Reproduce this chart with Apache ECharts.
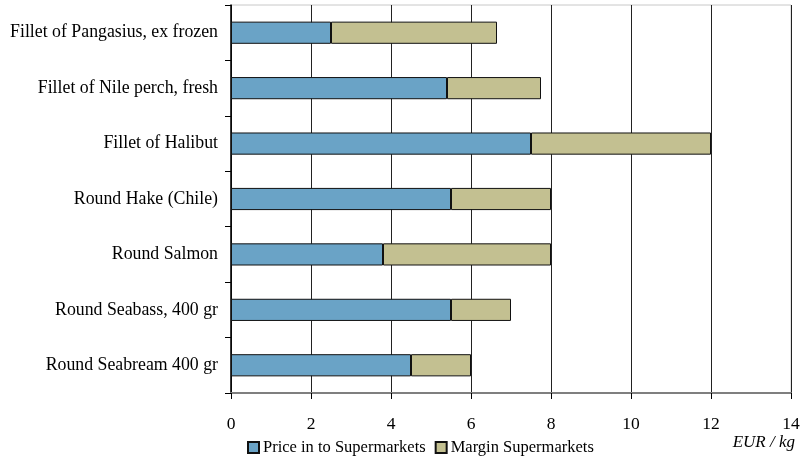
<!DOCTYPE html>
<html>
<head>
<meta charset="utf-8">
<script src="https://cdn.jsdelivr.net/npm/echarts@6/dist/echarts.min.js"></script>
<style>
  html, body { margin: 0; padding: 0; background: #fff; }
  #chart { width: 805px; height: 463px; }
</style>
</head>
<body>
<div id="chart"></div>
<script>
// Fish products: price paid by supermarkets and their margin (EUR per kg)
const categories = [
  'Fillet of Pangasius, ex frozen',
  'Fillet of Nile perch, fresh',
  'Fillet of Halibut',
  'Round Hake (Chile)',
  'Round Salmon',
  'Round Seabass, 400 gr',
  'Round Seabream 400 gr'
];
const priceIn = [2.5, 5.4, 7.5, 5.5, 3.8, 5.5, 4.5];
const margin = [4.15, 2.35, 4.5, 2.5, 4.2, 1.5, 1.5];
const seriesNames = ['Price in to Supermarkets', 'Margin Supermarkets'];
const unitLabel = 'EUR / kg';

const FONT = '"Liberation Serif", "Times New Roman", serif';
const chart = echarts.init(document.getElementById('chart'), null, { renderer: 'canvas' });

chart.setOption({
  animation: false,
  textStyle: { fontFamily: FONT, color: '#000' },
  grid: {
    left: 231, right: 14, top: 5, bottom: 70,
    show: true, borderColor: '#c8c8c8', borderWidth: 1
  },
  xAxis: {
    type: 'value',
    min: 0, max: 14, interval: 2,
    axisLine: { show: true, lineStyle: { color: '#7f7f7f', width: 2 } },
    axisTick: { show: true, length: 6, lineStyle: { color: '#000' } },
    splitLine: { show: true, lineStyle: { color: '#222', width: 1 } },
    axisLabel: { fontFamily: FONT, fontSize: 17.5, color: '#000', margin: 22 }
  },
  yAxis: {
    type: 'category',
    data: categories,
    inverse: true,
    axisLine: { show: true, lineStyle: { color: '#000', width: 1.5 } },
    axisTick: { show: true, length: 6, lineStyle: { color: '#000' } },
    axisLabel: { fontFamily: FONT, fontSize: 17.8, color: '#000', margin: 13 }
  },
  legend: {
    bottom: 2,
    left: 242,
    itemWidth: 11,
    itemHeight: 11,
    itemGap: 9,
    icon: 'rect',
    textStyle: { fontFamily: FONT, fontSize: 16.5, color: '#000', padding: [0, 0, 0, -1] },
    data: seriesNames
  },
  graphic: [{
    type: 'text',
    right: 10,
    top: 434,
    style: { text: unitLabel, font: 'italic 17px ' + FONT, fill: '#000' }
  }],
  series: [
    {
      name: seriesNames[0],
      type: 'bar',
      stack: 'total',
      barCategoryGap: '60%',
      data: priceIn,
      itemStyle: { color: '#6aa3c6', borderColor: '#111', borderWidth: 1 }
    },
    {
      name: seriesNames[1],
      type: 'bar',
      stack: 'total',
      barCategoryGap: '60%',
      data: margin,
      itemStyle: { color: '#c3c091', borderColor: '#111', borderWidth: 1 }
    }
  ]
});
</script>
</body>
</html>
